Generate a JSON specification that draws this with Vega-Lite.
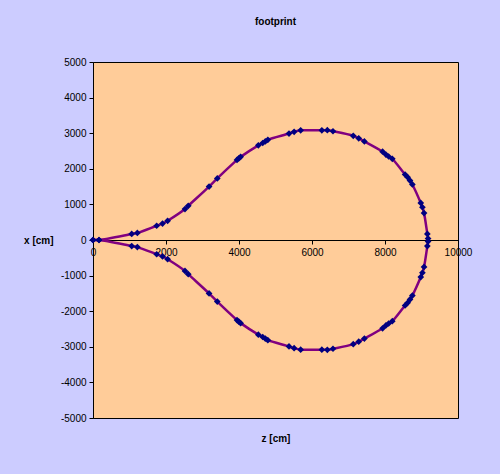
{
  "$schema": "https://vega.github.io/schema/vega-lite/v6.json",
  "width": 365,
  "height": 356,
  "autosize": {"type": "none"},
  "padding": {"left": 93, "top": 62, "right": 42, "bottom": 56},
  "background": "#CCCCFF",
  "title": {"text": "footprint", "fontSize": 10, "fontWeight": "bold", "font": "Liberation Sans", "color": "#000000", "anchor": "middle", "offset": 30},
  "config": {
    "view": {"fill": "#FFCC99", "stroke": "#000000", "strokeWidth": 1},
    "axis": {"labelFont": "Liberation Sans", "labelFontSize": 10, "labelColor": "#000000", "titleFont": "Liberation Sans", "titleFontSize": 10, "titleFontWeight": "bold", "titleColor": "#000000", "grid": false, "domainColor": "#000000", "tickColor": "#000000", "tickSize": 4, "labelExpr": "'' + datum.value"}
  },
  "data": {"values": [
    {"i": 1, "z": 0, "x": 0}, {"i": 2, "z": 165, "x": 0}, {"i": 3, "z": 1060, "x": 170}, {"i": 4, "z": 1215, "x": 200},
    {"i": 5, "z": 1745, "x": 400}, {"i": 6, "z": 1905, "x": 460}, {"i": 7, "z": 2045, "x": 540}, {"i": 8, "z": 2520, "x": 870},
    {"i": 9, "z": 2610, "x": 960}, {"i": 10, "z": 3180, "x": 1500}, {"i": 11, "z": 3405, "x": 1730}, {"i": 12, "z": 3945, "x": 2250},
    {"i": 13, "z": 3995, "x": 2295}, {"i": 14, "z": 4045, "x": 2335}, {"i": 15, "z": 4530, "x": 2660}, {"i": 16, "z": 4650, "x": 2725},
    {"i": 17, "z": 4720, "x": 2770}, {"i": 18, "z": 4790, "x": 2815}, {"i": 19, "z": 5370, "x": 2990}, {"i": 20, "z": 5510, "x": 3040},
    {"i": 21, "z": 5690, "x": 3080}, {"i": 22, "z": 6270, "x": 3080}, {"i": 23, "z": 6420, "x": 3085}, {"i": 24, "z": 6575, "x": 3055},
    {"i": 25, "z": 7130, "x": 2925}, {"i": 26, "z": 7280, "x": 2855}, {"i": 27, "z": 7435, "x": 2770}, {"i": 28, "z": 7935, "x": 2480},
    {"i": 29, "z": 8025, "x": 2400}, {"i": 30, "z": 8100, "x": 2345}, {"i": 31, "z": 8200, "x": 2280}, {"i": 32, "z": 8550, "x": 1840},
    {"i": 33, "z": 8620, "x": 1765}, {"i": 34, "z": 8685, "x": 1670}, {"i": 35, "z": 8750, "x": 1560}, {"i": 36, "z": 8980, "x": 1040},
    {"i": 37, "z": 9025, "x": 920}, {"i": 38, "z": 9070, "x": 755}, {"i": 39, "z": 9160, "x": 170}, {"i": 40, "z": 9180, "x": 40},
    {"i": 41, "z": 9180, "x": -40}, {"i": 42, "z": 9160, "x": -170}, {"i": 43, "z": 9070, "x": -755}, {"i": 44, "z": 9025, "x": -920},
    {"i": 45, "z": 8980, "x": -1040}, {"i": 46, "z": 8750, "x": -1560}, {"i": 47, "z": 8685, "x": -1670}, {"i": 48, "z": 8620, "x": -1765},
    {"i": 49, "z": 8550, "x": -1840}, {"i": 50, "z": 8200, "x": -2280}, {"i": 51, "z": 8100, "x": -2345}, {"i": 52, "z": 8025, "x": -2400},
    {"i": 53, "z": 7935, "x": -2480}, {"i": 54, "z": 7435, "x": -2770}, {"i": 55, "z": 7280, "x": -2855}, {"i": 56, "z": 7130, "x": -2925},
    {"i": 57, "z": 6575, "x": -3055}, {"i": 58, "z": 6420, "x": -3085}, {"i": 59, "z": 6270, "x": -3080}, {"i": 60, "z": 5690, "x": -3080},
    {"i": 61, "z": 5510, "x": -3040}, {"i": 62, "z": 5370, "x": -2990}, {"i": 63, "z": 4790, "x": -2815}, {"i": 64, "z": 4720, "x": -2770},
    {"i": 65, "z": 4650, "x": -2725}, {"i": 66, "z": 4530, "x": -2660}, {"i": 67, "z": 4045, "x": -2335}, {"i": 68, "z": 3995, "x": -2295},
    {"i": 69, "z": 3945, "x": -2250}, {"i": 70, "z": 3405, "x": -1730}, {"i": 71, "z": 3180, "x": -1500}, {"i": 72, "z": 2610, "x": -960},
    {"i": 73, "z": 2520, "x": -870}, {"i": 74, "z": 2045, "x": -540}, {"i": 75, "z": 1905, "x": -460}, {"i": 76, "z": 1745, "x": -400},
    {"i": 77, "z": 1215, "x": -200}, {"i": 78, "z": 1060, "x": -170}, {"i": 79, "z": 165, "x": 0}, {"i": 80, "z": 0, "x": 0}
  ]},
  "encoding": {
    "x": {"field": "z", "type": "quantitative", "scale": {"domain": [0, 10000], "nice": false, "zero": false},
      "axis": {"orient": "bottom", "offset": -178, "values": [0, 2000, 4000, 6000, 8000, 10000], "title": "z [cm]", "titleY": 193, "labelPadding": 3, "labelFlush": false}},
    "y": {"field": "x", "type": "quantitative", "scale": {"domain": [-5000, 5000], "nice": false},
      "axis": {"values": [-5000, -4000, -3000, -2000, -1000, 0, 1000, 2000, 3000, 4000, 5000], "title": "x [cm]", "titleAngle": 0, "titleX": -40, "titleY": 178, "titleAlign": "right", "titleBaseline": "middle", "labelPadding": 3}}
  },
  "layer": [
    {"mark": {"type": "line", "interpolate": "catmull-rom", "stroke": "#800080", "strokeWidth": 2.5}, "encoding": {"order": {"field": "i", "type": "quantitative"}}},
    {"mark": {"type": "point", "shape": "diamond", "filled": true, "color": "#000080", "size": 45, "opacity": 1}}
  ]
}
